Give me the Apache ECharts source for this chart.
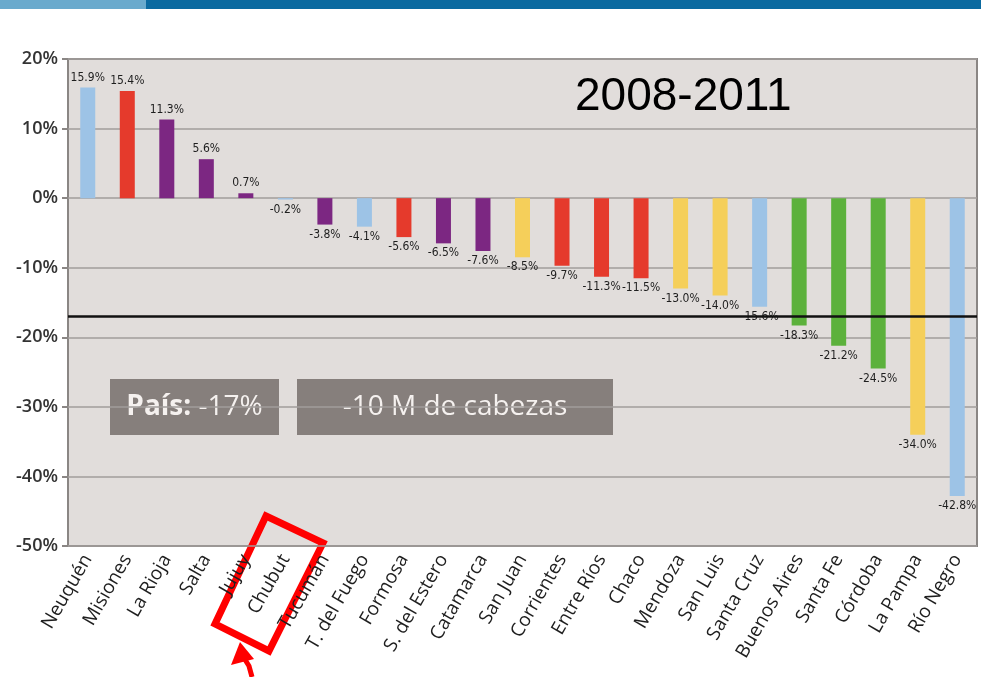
<!DOCTYPE html>
<html lang="es">
<head>
    <meta charset="UTF-8">
    <title>Variación existencias bovinas 2008-2011</title>
    <script src="https://cdn.jsdelivr.net/npm/echarts@6/dist/echarts.min.js"></script>
    <style>
        html, body { margin: 0; padding: 0; background: #ffffff; }
        #main { width: 981px; height: 677px; }
    </style>
</head>
<body>
<div id="main"></div>
<script>
    // provincias, de mayor a menor variación
    var provincias = ['Neuquén', 'Misiones', 'La Rioja', 'Salta', 'Jujuy', 'Chubut', 'Tucumán',
        'T. del Fuego', 'Formosa', 'S. del Estero', 'Catamarca', 'San Juan', 'Corrientes',
        'Entre Ríos', 'Chaco', 'Mendoza', 'San Luis', 'Santa Cruz', 'Buenos Aires',
        'Santa Fe', 'Córdoba', 'La Pampa', 'Río Negro'];
    var variacion = [15.9, 15.4, 11.3, 5.6, 0.7, -0.2, -3.8, -4.1, -5.6, -6.5, -7.6, -8.5,
        -9.7, -11.3, -11.5, -13.0, -14.0, -15.6, -18.3, -21.2, -24.5, -34.0, -42.8];
    var region = ['Patagonia', 'NEA', 'NOA', 'NOA', 'NOA', 'Patagonia', 'NOA',
        'Patagonia', 'NEA', 'NOA', 'NOA', 'Cuyo', 'NEA',
        'NEA', 'NEA', 'Cuyo', 'Cuyo', 'Patagonia', 'Pampeana',
        'Pampeana', 'Pampeana', 'Cuyo', 'Patagonia'];
    var pais = -17;
    var yTicks = [-50, -40, -30, -20, -10, 0, 10, 20];

    var colores = {
        'Patagonia': '#9dc3e6',
        'NEA': '#e53a2c',
        'NOA': '#7c2782',
        'Cuyo': '#f5cf5a',
        'Pampeana': '#5cb13c'
    };

    var barData = variacion.map(function (v, i) {
        return {
            value: v,
            itemStyle: { color: colores[region[i]] },
            label: { position: v >= 0 ? 'top' : 'bottom' }
        };
    });

    var myChart = echarts.init(document.getElementById('main'));

    var option = {
        backgroundColor: '#ffffff',
        animation: false,
        grid: {
            left: 68, right: 4, top: 59, bottom: 131,
            show: true,
            backgroundColor: '#e1dddb',
            borderColor: '#8a8684',
            borderWidth: 2
        },
        xAxis: {
            type: 'category',
            data: provincias,
            axisLine: { show: false },
            axisTick: { show: false },
            axisLabel: {
                interval: 0,
                rotate: 60,
                margin: 10,
                color: '#1e1e1e',
                fontFamily: 'Open Sans',
                fontSize: 19
            }
        },
        yAxis: {
            type: 'value',
            min: yTicks[0],
            max: yTicks[yTicks.length - 1],
            interval: 10,
            axisLine: { show: false },
            axisTick: { show: true, length: 6, lineStyle: { color: '#8a8684', width: 2 } },
            axisLabel: {
                formatter: '{value}%',
                color: '#333333',
                fontFamily: 'Open Sans',
                fontWeight: 600,
                fontSize: 18,
                margin: 10
            },
            splitLine: { lineStyle: { color: '#a19d9b', width: 1.5 } }
        },
        series: [{
            type: 'bar',
            data: barData,
            barWidth: 15,
            label: {
                show: true,
                distance: 4,
                formatter: function (p) { return p.value.toFixed(1) + '%'; },
                fontFamily: 'Liberation Sans Narrow, DejaVu Sans Condensed, sans-serif',
                fontSize: 12,
                color: '#1e1e1e'
            },
            markLine: {
                silent: true,
                symbol: 'none',
                label: { show: false },
                lineStyle: { color: '#111111', width: 2.5, type: 'solid' },
                data: [{ yAxis: pais }]
            }
        }],
        graphic: [
            // franja superior
            { type: 'rect', left: 0, top: 0, shape: { width: 981, height: 9 }, style: { fill: '#0b6aa0' } },
            { type: 'rect', left: 0, top: 0, shape: { width: 146, height: 9 }, style: { fill: '#6aaacd' } },
            // título
            {
                type: 'text', left: 575, top: 74,
                style: { text: '2008-2011', fill: '#000000', font: '46px "Liberation Sans", Arial, sans-serif' }
            },
            // recuadros
            { type: 'rect', left: 110, top: 379, shape: { width: 169, height: 56 }, style: { fill: '#867f7c' } },
            {
                type: 'text', x: 194.5, y: 407,
                style: {
                    text: '{b|País:} -17%',
                    fill: '#f5f1ef',
                    font: '28px "Open Sans", sans-serif',
                    align: 'center', verticalAlign: 'middle',
                    rich: { b: { fontWeight: 'bold', fontSize: 28, fontFamily: 'Open Sans', fill: '#f5f1ef' } }
                }
            },
            { type: 'rect', left: 297, top: 379, shape: { width: 316, height: 56 }, style: { fill: '#867f7c' } },
            {
                type: 'text', x: 455, y: 407,
                style: {
                    text: '-10 M de cabezas',
                    fill: '#f5f1ef',
                    font: '28px "Open Sans", sans-serif',
                    align: 'center', verticalAlign: 'middle'
                }
            },
            // marca roja sobre Chubut
            {
                type: 'polygon',
                shape: { points: [[266, 516], [323, 543], [269, 651], [215, 624]] },
                style: { fill: 'none', stroke: '#ff0000', lineWidth: 7 }
            },
            {
                type: 'polygon',
                shape: { points: [[240, 642], [231, 665], [254, 659]] },
                style: { fill: '#ff0000' }
            },
            {
                type: 'polyline',
                shape: { points: [[244, 658], [249, 666], [252, 677]] },
                style: { stroke: '#ff0000', lineWidth: 5, fill: 'none' }
            }
        ]
    };

    myChart.setOption(option);
</script>
</body>
</html>
